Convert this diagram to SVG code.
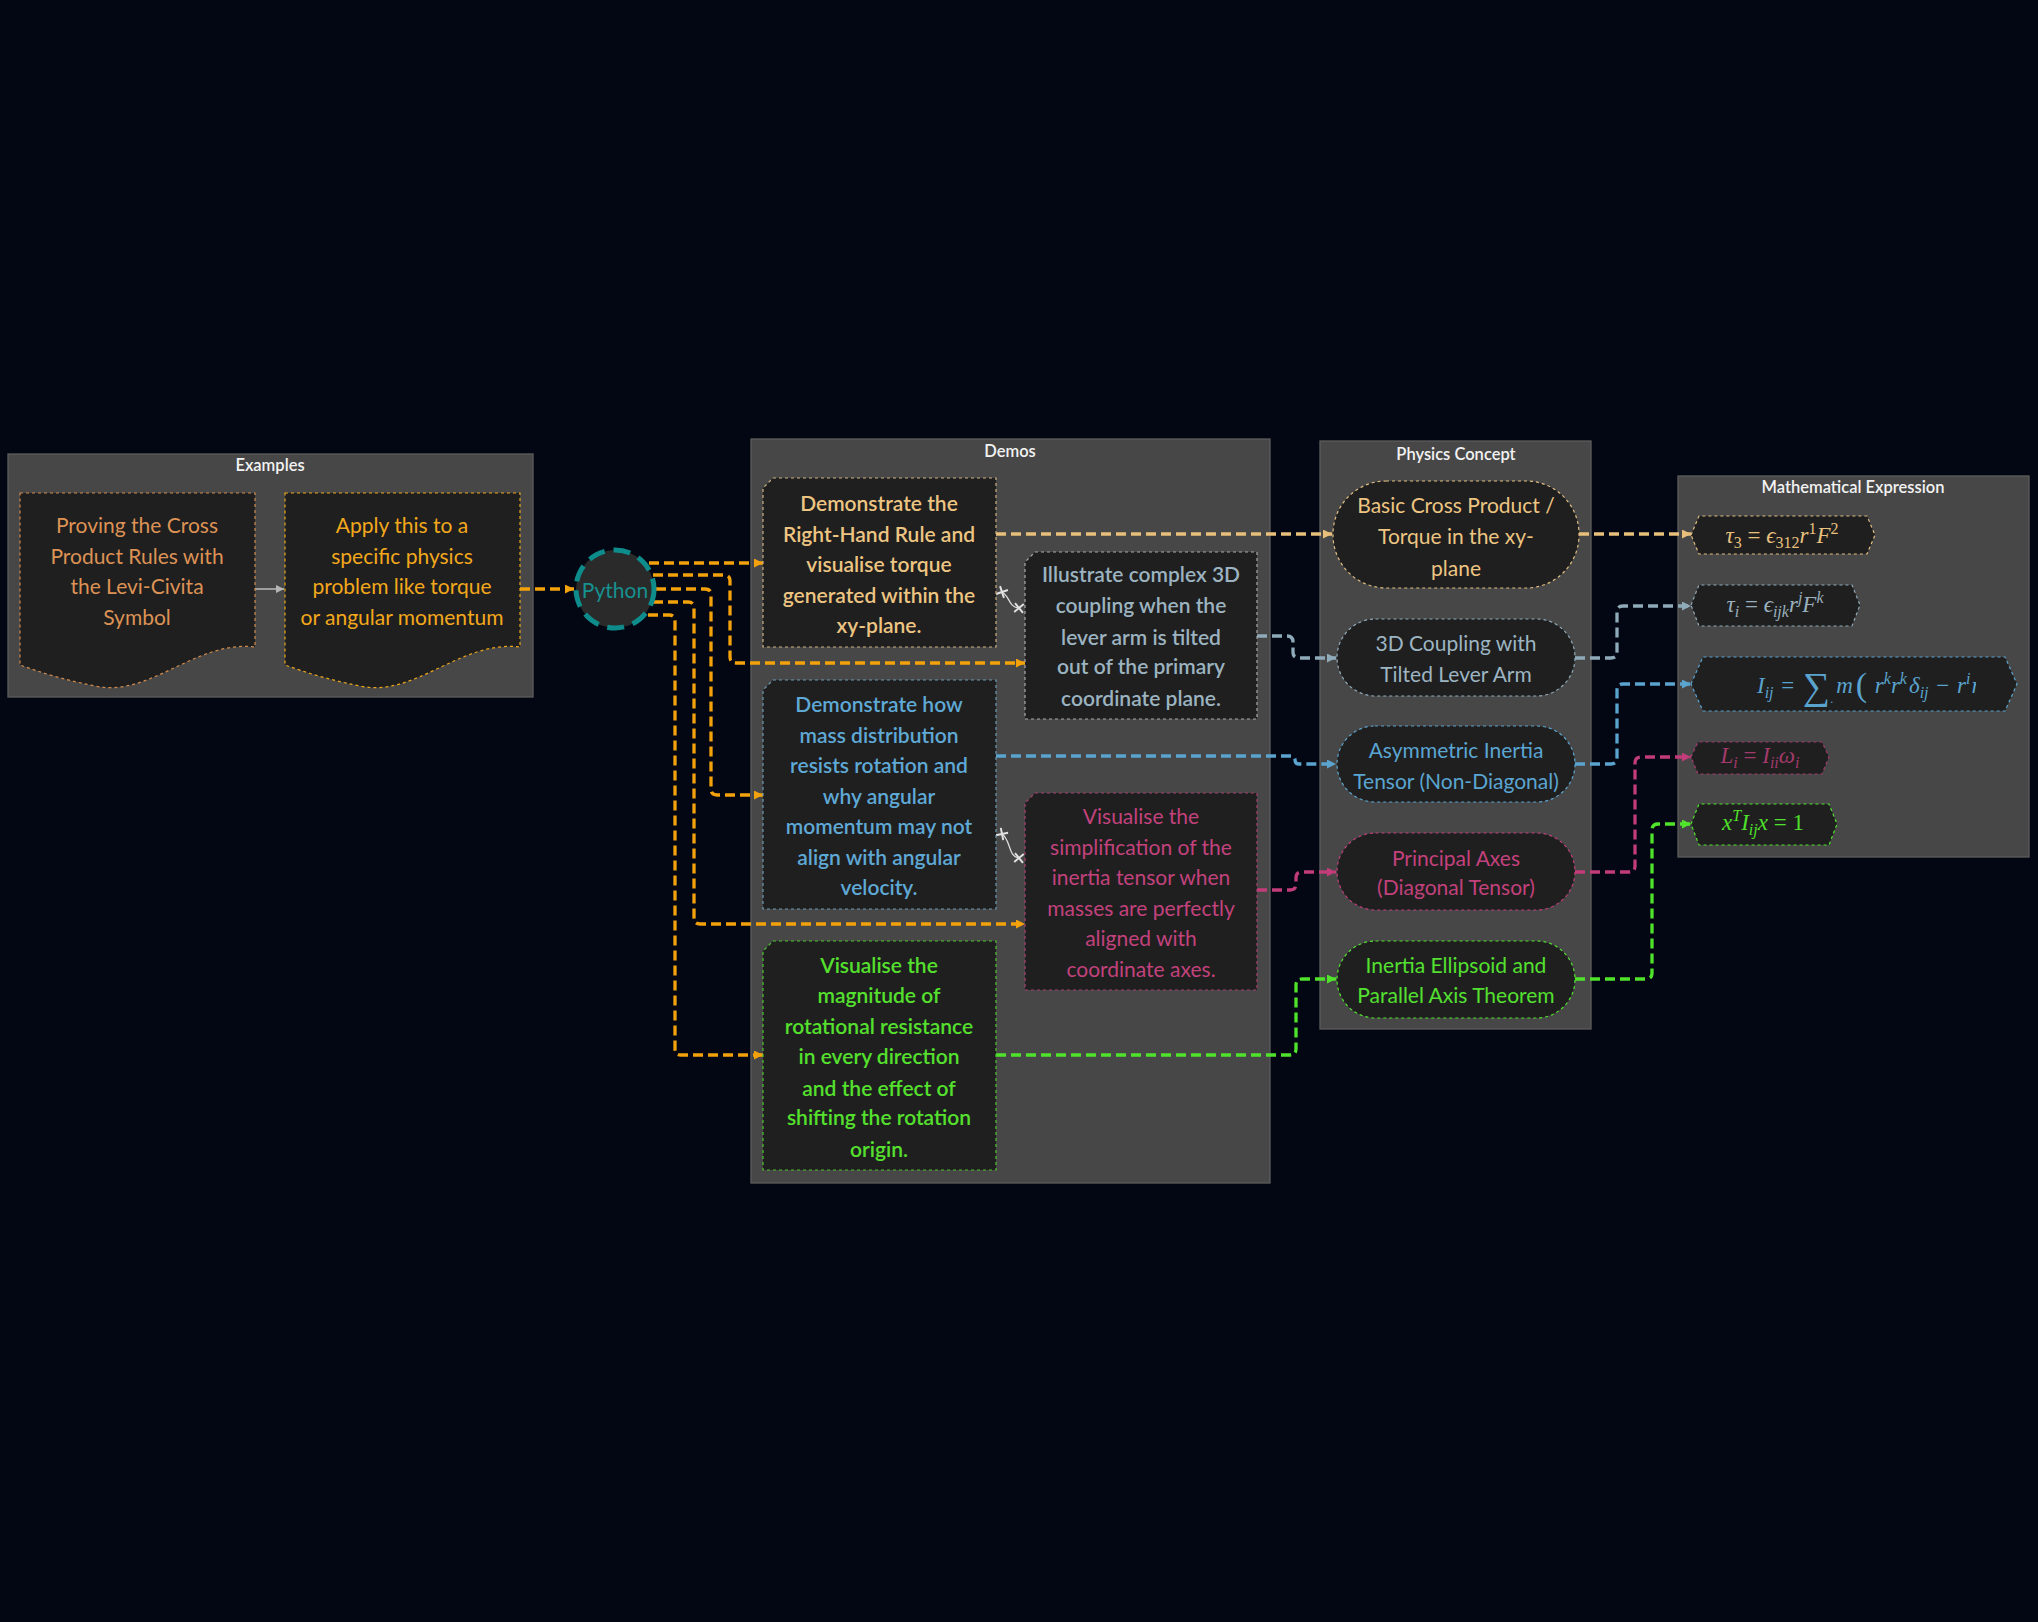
<svg xmlns="http://www.w3.org/2000/svg" width="2038" height="1622" viewBox="0 0 2038 1622">
<style>
.bg{fill:#020713}
.cl{fill:#474747;stroke:#5d5d5d;stroke-width:1.3}
.ct{font-family:Lato,"Noto Sans",sans-serif;font-size:16.5px;fill:#f2f2f2;text-anchor:middle;dominant-baseline:central;font-weight:600}
.nd{fill:#1f1f1f;stroke-width:1.2;stroke-dasharray:3 3}
.t{font-family:Lato,"Noto Sans",sans-serif;font-size:21px;text-anchor:middle;dominant-baseline:central}
.b{font-weight:600}
.m{font-family:"Liberation Serif","DejaVu Serif",serif;font-size:23px;text-anchor:middle}
.ms{text-anchor:start}
.i{font-style:italic}
.s{font-size:16px}
.e{fill:none;stroke-width:3.3;stroke-dasharray:10 5}
.or{stroke:#f4a20c}.tan{stroke:#e8c07c}.gb{stroke:#8fabba}.bl{stroke:#5aa4cf}.pk{stroke:#c23c7a}.gr{stroke:#4fe42b}
</style>
<defs>
<marker id="aor" viewBox="0 0 10 10" refX="10" refY="5" markerWidth="10" markerHeight="9" markerUnits="userSpaceOnUse" orient="auto"><path d="M0,0 L10,5 L0,10 z" fill="#f4a20c"/></marker>
<marker id="atan" viewBox="0 0 10 10" refX="10" refY="5" markerWidth="10" markerHeight="9" markerUnits="userSpaceOnUse" orient="auto"><path d="M0,0 L10,5 L0,10 z" fill="#e8c07c"/></marker>
<marker id="agb" viewBox="0 0 10 10" refX="10" refY="5" markerWidth="10" markerHeight="9" markerUnits="userSpaceOnUse" orient="auto"><path d="M0,0 L10,5 L0,10 z" fill="#8fabba"/></marker>
<marker id="abl" viewBox="0 0 10 10" refX="10" refY="5" markerWidth="10" markerHeight="9" markerUnits="userSpaceOnUse" orient="auto"><path d="M0,0 L10,5 L0,10 z" fill="#5aa4cf"/></marker>
<marker id="apk" viewBox="0 0 10 10" refX="10" refY="5" markerWidth="10" markerHeight="9" markerUnits="userSpaceOnUse" orient="auto"><path d="M0,0 L10,5 L0,10 z" fill="#c23c7a"/></marker>
<marker id="agr" viewBox="0 0 10 10" refX="10" refY="5" markerWidth="10" markerHeight="9" markerUnits="userSpaceOnUse" orient="auto"><path d="M0,0 L10,5 L0,10 z" fill="#4fe42b"/></marker>
<marker id="agy" viewBox="0 0 10 10" refX="10" refY="5" markerWidth="9" markerHeight="8" markerUnits="userSpaceOnUse" orient="auto"><path d="M0,0 L10,5 L0,10 z" fill="#b5b5b5"/></marker>
<marker id="x" viewBox="-5 -5 10 10" refX="0" refY="0" markerWidth="11" markerHeight="11" markerUnits="userSpaceOnUse" orient="auto"><path d="M-4,-4 L4,4 M4,-4 L-4,4" stroke="#e2e2e2" stroke-width="1.8" fill="none"/></marker>
<clipPath id="m3clip"><rect x="1700" y="650" width="276" height="70"/></clipPath>
</defs>
<rect class="bg" x="0" y="0" width="2038" height="1622"/>

<g id="cluster-examples"><rect class="cl" x="8" y="454" width="525" height="243"/><text class="ct" x="270" y="465">Examples</text></g>
<g id="cluster-demos"><rect class="cl" x="751" y="439" width="519" height="744"/><text class="ct" x="1010" y="451">Demos</text></g>
<g id="cluster-physics"><rect class="cl" x="1320" y="441" width="271" height="588"/><text class="ct" x="1456" y="454">Physics Concept</text></g>
<g id="cluster-math"><rect class="cl" x="1678" y="476" width="351" height="381"/><text class="ct" x="1853" y="487">Mathematical Expression</text></g>

<g id="connectors">
<path d="M255,589 H284" fill="none" stroke="#b5b5b5" stroke-width="1.6" marker-end="url(#agy)"/>
<path class="e or" d="M520,589 H574" marker-end="url(#aor)"/>
<path class="e or" d="M649,563 H763" marker-end="url(#aor)"/>
<path class="e or" d="M653,575 H724 Q730,575 730,581 V657 Q730,663 736,663 H1025" marker-end="url(#aor)"/>
<path class="e or" d="M656,589 H705 Q711,589 711,595 V789 Q711,795 717,795 H763" marker-end="url(#aor)"/>
<path class="e or" d="M653,602 H688 Q694,602 694,608 V918 Q694,924 700,924 H1025" marker-end="url(#aor)"/>
<path class="e or" d="M648,615 H669 Q675,615 675,621 V1049 Q675,1055 681,1055 H763" marker-end="url(#aor)"/>
<path class="e tan" d="M996,534 H1332" marker-end="url(#atan)"/>
<path class="e tan" d="M1579,534 H1691" marker-end="url(#atan)"/>
<path class="e gb" d="M1257,636 H1287 Q1293,636 1293,642 V652 Q1293,658 1299,658 H1336" marker-end="url(#agb)"/>
<path class="e gb" d="M1575,658 H1611 Q1617,658 1617,652 V612 Q1617,606 1623,606 H1691" marker-end="url(#agb)"/>
<path class="e bl" d="M996,756 H1291 Q1295,756 1295,760 Q1295,764 1299,764 H1336" marker-end="url(#abl)"/>
<path class="e bl" d="M1575,764 H1611 Q1617,764 1617,758 V690 Q1617,684 1623,684 H1691" marker-end="url(#abl)"/>
<path class="e pk" d="M1257,890 H1290 Q1296,890 1296,884 V878 Q1296,872 1302,872 H1336" marker-end="url(#apk)"/>
<path class="e pk" d="M1575,872 H1629 Q1635,872 1635,866 V763 Q1635,757 1641,757 H1691" marker-end="url(#apk)"/>
<path class="e gr" d="M996,1055 H1290 Q1296,1055 1296,1049 V985 Q1296,979 1302,979 H1336" marker-end="url(#agr)"/>
<path class="e gr" d="M1575,979 H1646 Q1652,979 1652,973 V830 Q1652,824 1658,824 H1691" marker-end="url(#agr)"/>
<path d="M1002,592 C1010,596 1008,607 1019,608" fill="none" stroke="#e2e2e2" stroke-width="1.2" marker-start="url(#x)" marker-end="url(#x)"/>
<path d="M1002,834 C1011,840 1008,857 1019,858" fill="none" stroke="#e2e2e2" stroke-width="1.2" marker-start="url(#x)" marker-end="url(#x)"/>
</g>

<g id="node-proving">
<path class="nd" stroke="#d08a4c" d="M20,493 H255 V647 C195,640 150,698 95,686 C60,679 40,672 20,665 Z"/>
<text class="t" fill="#dd9255"><tspan x="137" y="524">Proving the Cross</tspan><tspan x="137" y="555">Product Rules with</tspan><tspan x="137" y="585">the Levi-Civita</tspan><tspan x="137" y="616">Symbol</tspan></text>
</g>
<g id="node-apply">
<path class="nd" stroke="#eaa51a" d="M285,493 H520 V647 C460,640 415,698 360,686 C325,679 305,672 285,665 Z"/>
<text class="t" fill="#f3a81c"><tspan x="402" y="524">Apply this to a</tspan><tspan x="402" y="555">specific physics</tspan><tspan x="402" y="585">problem like torque</tspan><tspan x="402" y="616">or angular momentum</tspan></text>
</g>
<g id="node-python">
<circle cx="615" cy="589" r="39" fill="#2a2a2a" stroke="#0e8b8b" stroke-width="5" stroke-dasharray="17 9"/>
<text class="t" x="615" y="589" fill="#16918f" font-size="20">Python</text>
</g>

<g id="node-demo1">
<path class="nd" stroke="#cdb083" d="M773,478 H996 V647 H763 V488 Z"/>
<text class="t b" fill="#edc582"><tspan x="879" y="502">Demonstrate the</tspan><tspan x="879" y="533">Right-Hand Rule and</tspan><tspan x="879" y="563">visualise torque</tspan><tspan x="879" y="594">generated within the</tspan><tspan x="879" y="624">xy-plane.</tspan></text>
</g>
<g id="node-demo2">
<path class="nd" stroke="#a9a9a9" d="M1035,552 H1257 V719 H1025 V562 Z"/>
<text class="t b" fill="#9cb3c0"><tspan x="1141" y="573">Illustrate complex 3D</tspan><tspan x="1141" y="604">coupling when the</tspan><tspan x="1141" y="636">lever arm is tilted</tspan><tspan x="1141" y="665">out of the primary</tspan><tspan x="1141" y="697">coordinate plane.</tspan></text>
</g>
<g id="node-demo3">
<path class="nd" stroke="#6d9ab5" d="M773,680 H996 V909 H763 V690 Z"/>
<text class="t b" fill="#5fa9d6"><tspan x="879" y="703">Demonstrate how</tspan><tspan x="879" y="734">mass distribution</tspan><tspan x="879" y="764">resists rotation and</tspan><tspan x="879" y="795">why angular</tspan><tspan x="879" y="825">momentum may not</tspan><tspan x="879" y="856">align with angular</tspan><tspan x="879" y="886">velocity.</tspan></text>
</g>
<g id="node-demo4">
<path class="nd" stroke="#a8406f" d="M1035,793 H1257 V990 H1025 V803 Z"/>
<text class="t" fill="#c2427d"><tspan x="1141" y="815">Visualise the</tspan><tspan x="1141" y="846">simplification of the</tspan><tspan x="1141" y="876">inertia tensor when</tspan><tspan x="1141" y="907">masses are perfectly</tspan><tspan x="1141" y="937">aligned with</tspan><tspan x="1141" y="968">coordinate axes.</tspan></text>
</g>
<g id="node-demo5">
<path class="nd" stroke="#4cc52c" d="M773,941 H996 V1170 H763 V951 Z"/>
<text class="t b" fill="#55e02e"><tspan x="879" y="964">Visualise the</tspan><tspan x="879" y="994">magnitude of</tspan><tspan x="879" y="1025">rotational resistance</tspan><tspan x="879" y="1055">in every direction</tspan><tspan x="879" y="1087">and the effect of</tspan><tspan x="879" y="1116">shifting the rotation</tspan><tspan x="879" y="1148">origin.</tspan></text>
</g>

<g id="node-concept1">
<rect class="nd" stroke="#e0bd80" x="1333" y="481" width="246" height="107" rx="53" ry="53"/>
<text class="t" fill="#edc582"><tspan x="1456" y="504">Basic Cross Product /</tspan><tspan x="1456" y="535">Torque in the xy-</tspan><tspan x="1456" y="567">plane</tspan></text>
</g>
<g id="node-concept2">
<rect class="nd" stroke="#8fabba" x="1337" y="619" width="238" height="77" rx="38.5" ry="38.5"/>
<text class="t" fill="#9db5c2"><tspan x="1456" y="642">3D Coupling with</tspan><tspan x="1456" y="673">Tilted Lever Arm</tspan></text>
</g>
<g id="node-concept3">
<rect class="nd" stroke="#5aa4cf" x="1337" y="726" width="238" height="76" rx="38" ry="38"/>
<text class="t" fill="#5aa5d2"><tspan x="1456" y="749">Asymmetric Inertia</tspan><tspan x="1456" y="780">Tensor (Non-Diagonal)</tspan></text>
</g>
<g id="node-concept4">
<rect class="nd" stroke="#c23c7a" x="1337" y="833" width="238" height="77" rx="38.5" ry="38.5"/>
<text class="t" fill="#c2417c"><tspan x="1456" y="857">Principal Axes</tspan><tspan x="1456" y="886">(Diagonal Tensor)</tspan></text>
</g>
<g id="node-concept5">
<rect class="nd" stroke="#4fe42b" x="1337" y="941" width="238" height="77" rx="38.5" ry="38.5"/>
<text class="t" fill="#54e030"><tspan x="1456" y="964">Inertia Ellipsoid and</tspan><tspan x="1456" y="994">Parallel Axis Theorem</tspan></text>
</g>

<g id="node-math1">
<path class="nd" stroke="#e0bd80" d="M1691,535 L1699,516 H1867 L1875,535 L1867,554 H1699 Z"/>
<text class="m" x="1782" y="543" fill="#e9c17e"><tspan class="i">τ</tspan><tspan class="s" dy="5">3</tspan><tspan dy="-5"> = </tspan><tspan class="i">ϵ</tspan><tspan class="s" dy="5">312</tspan><tspan class="i" dy="-5">r</tspan><tspan class="s" dy="-9">1</tspan><tspan class="i" dy="9">F</tspan><tspan class="s" dy="-9">2</tspan></text>
</g>
<g id="node-math2">
<path class="nd" stroke="#8fabba" d="M1691,605 L1699,585 H1852 L1860,605 L1852,626 H1699 Z"/>
<text class="m" x="1775" y="612" fill="#9ab0bd"><tspan class="i">τ</tspan><tspan class="s i" dy="5">i</tspan><tspan dy="-5"> = </tspan><tspan class="i">ϵ</tspan><tspan class="s i" dy="5">ijk</tspan><tspan class="i" dy="-5">r</tspan><tspan class="s i" dy="-9">j</tspan><tspan class="i" dy="9">F</tspan><tspan class="s i" dy="-9">k</tspan></text>
</g>
<g id="node-math3">
<path class="nd" stroke="#5aa4cf" d="M1691,684 L1703,657 H2005 L2017,684 L2005,711 H1703 Z"/>
<text clip-path="url(#m3clip)" class="m ms" x="1757" y="693" fill="#5aa3cf"><tspan class="i">I</tspan><tspan class="s i" dy="5">ij</tspan><tspan dy="-5" dx="2"> = </tspan><tspan font-size="38" dy="6" dx="3">∑</tspan><tspan font-size="12" dy="4">.</tspan><tspan class="i" dy="-10" dx="3">m</tspan><tspan font-size="34" dy="3" dx="3">(</tspan><tspan class="i" dy="-3" dx="2"> r</tspan><tspan class="s i" dy="-9">k</tspan><tspan class="i" dy="9">r</tspan><tspan class="s i" dy="-9">k</tspan><tspan class="i" dy="9" dx="2">δ</tspan><tspan class="s i" dy="5">ij</tspan><tspan dy="-5" dx="2"> − </tspan><tspan class="i" dx="2">r</tspan><tspan class="s i" dy="-9">i</tspan><tspan class="i" dy="9" dx="1">r</tspan></text>
</g>
<g id="node-math4">
<path class="nd" stroke="#a13a6b" d="M1691,757 L1698,742 H1822 L1829,757 L1822,774 H1698 Z"/>
<text class="m" x="1760" y="763" fill="#a23a6b"><tspan class="i">L</tspan><tspan class="s i" dy="5">i</tspan><tspan dy="-5"> = </tspan><tspan class="i">I</tspan><tspan class="s i" dy="5">ii</tspan><tspan class="i" dy="-5">ω</tspan><tspan class="s i" dy="5">i</tspan></text>
</g>
<g id="node-math5">
<path class="nd" stroke="#4fe42b" d="M1691,824 L1699,804 H1829 L1837,824 L1829,845 H1699 Z"/>
<text class="m" x="1763" y="830" fill="#4fe02b"><tspan class="i">x</tspan><tspan class="s i" dy="-9">T</tspan><tspan class="i" dy="9">I</tspan><tspan class="s i" dy="5">ij</tspan><tspan class="i" dy="-5">x</tspan><tspan> = 1</tspan></text>
</g>
</svg>
